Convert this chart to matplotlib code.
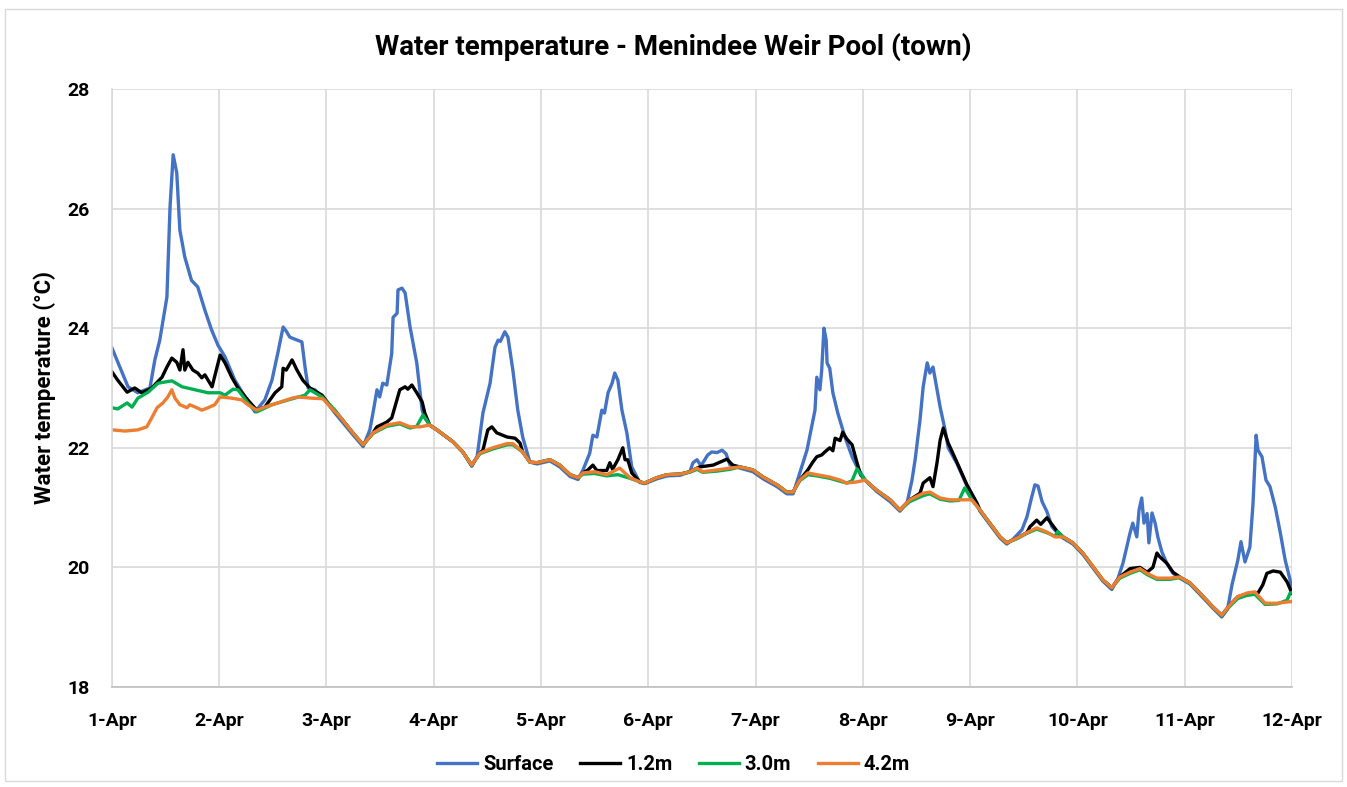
import matplotlib
matplotlib.use("Agg")
import matplotlib.pyplot as plt
from matplotlib.patches import Rectangle

plt.rcParams['font.family'] = ['Roboto', 'DejaVu Sans']
plt.rcParams['font.weight'] = 'bold'

# hours since 1-Apr 00:00, temperature in degC
surface_h = [0, 3.6, 5.8, 8.5, 9.6, 10.7, 12.3, 13.0, 13.7, 14.5, 15.2, 16.3, 17.8, 19.2, 20.8, 22.3, 23.7,
             25.3, 27.5, 29.8, 32.0, 34.2, 35.8, 37.1, 38.3, 39.0, 39.8, 42.5, 43.2, 43.9, 45.4, 47.7, 49.9,
             53.9, 56.2, 57.7, 58.4, 59.3, 59.9, 60.6, 61.5, 62.6, 62.9, 63.8, 64.0, 64.9, 65.6, 66.7, 68.2,
             69.4, 70.0, 71.1, 72.7, 76.3, 78.5, 80.5, 81.7, 83.0, 84.6, 85.7, 86.4, 86.9, 87.9, 88.6, 89.7,
             90.8, 91.9, 93.5, 95.1, 98.0, 100.2, 102.5, 104.3, 105.4, 106.9, 107.6, 108.5, 109.6, 110.2,
             111.0, 111.9, 112.5, 113.2, 114.1, 115.2, 116.3, 118.1, 119.2, 121.9, 124.2, 127.1, 129.3,
             130.0, 130.9, 131.8, 133.3, 134.2, 135.4, 136.5, 137.4, 138.3, 140.5, 143.4, 145.7, 148.8,
             151.0, 152.4, 153.9, 155.5, 157.3, 157.7, 158.4, 158.8, 159.3, 159.8, 160.0, 160.6, 161.3,
             162.4, 164.0, 165.6, 166.7, 168.5, 171.1, 174.1, 176.3, 177.9, 179.0, 179.7, 180.8, 181.5,
             182.4, 183.0, 183.7, 184.6, 185.3, 186.4, 187.1, 189.1, 191.3, 193.5, 194.2, 196.4, 198.7,
             200.2, 201.6, 203.6, 204.7, 205.8, 206.5, 207.2, 208.1, 209.2, 210.3, 211.6, 212.8, 215.0,
             217.2, 219.5, 221.7, 223.7, 225.1, 226.2, 227.8, 228.4, 229.3, 229.8, 230.4, 230.9, 231.6,
             232.0, 232.7, 233.4, 234.0, 234.9, 236.0, 237.4, 238.9, 241.2, 243.4, 246.3, 248.3, 249.6,
             250.6, 251.2, 251.9, 252.6, 253.5, 254.6, 255.3, 256.0, 256.4, 257.3, 258.2, 259.1, 260.3,
             261.4, 262.5, 263.6, 264.0]
surface_t = [23.67, 23.02, 22.92, 23.00, 23.47, 23.80, 24.52, 26.03, 26.90, 26.60, 25.64, 25.19, 24.80, 24.69,
             24.30, 23.97, 23.72, 23.52, 23.13, 22.85, 22.60, 22.80, 23.13, 23.58, 24.02, 23.95, 23.85, 23.77,
             23.35, 23.00, 22.97, 22.80, 22.58, 22.22, 22.02, 22.30, 22.58, 22.97, 22.85, 23.08, 23.05, 23.58,
             24.18, 24.25, 24.64, 24.67, 24.59, 24.02, 23.42, 22.63, 22.50, 22.38, 22.30, 22.10, 21.93, 21.69,
             21.85, 22.58, 23.08, 23.68, 23.80, 23.78, 23.94, 23.85, 23.30, 22.63, 22.18, 21.76, 21.73, 21.78,
             21.68, 21.52, 21.47, 21.63, 21.91, 22.21, 22.18, 22.63, 22.58, 22.92, 23.08, 23.25, 23.13, 22.63,
             22.25, 21.68, 21.42, 21.40, 21.48, 21.53, 21.54, 21.60, 21.75, 21.80, 21.70, 21.88, 21.93, 21.92,
             21.96, 21.90, 21.71, 21.66, 21.60, 21.48, 21.35, 21.23, 21.23, 21.58, 21.96, 22.63, 23.18, 22.97,
             23.30, 24.00, 23.80, 23.42, 23.33, 22.92, 22.58, 22.18, 21.85, 21.68, 21.46, 21.27, 21.10, 20.94,
             21.08, 21.46, 21.80, 22.47, 23.02, 23.42, 23.25, 23.35, 22.97, 22.68, 22.30, 22.00, 21.73, 21.36,
             21.06, 20.94, 20.72, 20.49, 20.39, 20.47, 20.63, 20.84, 21.18, 21.38, 21.36, 21.10, 20.93, 20.68,
             20.57, 20.49, 20.39, 20.22, 19.99, 19.77, 19.63, 19.82, 20.07, 20.58, 20.74, 20.51, 20.96, 21.16,
             20.74, 20.90, 20.41, 20.91, 20.74, 20.51, 20.26, 20.07, 19.90, 19.82, 19.72, 19.55, 19.32, 19.17,
             19.30, 19.71, 19.90, 20.12, 20.43, 20.09, 20.34, 21.07, 22.21, 21.96, 21.85, 21.46, 21.35, 21.00,
             20.58, 20.12, 19.79, 19.62]

m12_h = [0, 1.3, 3.4, 5.1, 6.7, 8.9, 11.2, 12.3, 13.4, 14.5, 15.2, 15.9, 16.3, 17.0, 18.1, 19.2, 20.1, 20.8,
         22.4, 24.2, 25.3, 26.8, 28.2, 30.4, 32.4, 34.2, 36.5, 38.0, 38.3, 39.0, 40.3, 41.4, 42.7, 44.3, 47.0,
         49.9, 51.0, 53.9, 56.2, 58.4, 59.3, 61.5, 62.6, 63.3, 64.4, 65.6, 66.2, 67.1, 68.2, 69.4, 70.0, 71.1,
         72.7, 76.3, 78.5, 80.5, 82.3, 83.0, 84.1, 85.0, 86.1, 88.4, 90.2, 91.3, 91.9, 93.5, 95.1, 98.0, 100.2,
         102.5, 104.3, 105.4, 106.5, 107.6, 108.5, 110.7, 111.4, 112.0, 113.2, 114.3, 114.8, 115.4, 116.3,
         118.1, 119.2, 121.9, 124.2, 127.1, 129.3, 130.9, 131.5, 134.5, 137.6, 138.9, 140.5, 143.4, 145.7,
         148.8, 151.0, 152.4, 153.9, 155.7, 156.8, 157.7, 158.8, 159.5, 160.6, 161.3, 161.8, 162.9, 163.5,
         164.4, 165.6, 166.7, 167.5, 168.5, 171.1, 174.1, 176.3, 178.5, 180.8, 181.5, 183.0, 183.7, 184.6,
         185.3, 186.0, 187.1, 189.1, 191.3, 193.5, 194.2, 196.4, 198.7, 200.2, 202.5, 204.7, 205.4, 206.9,
         207.8, 209.2, 210.3, 211.6, 212.8, 215.0, 217.2, 219.5, 221.7, 223.7, 225.5, 227.8, 230.0, 231.6,
         232.9, 233.8, 234.4, 236.0, 237.4, 238.9, 241.2, 243.4, 246.3, 248.3, 250.1, 251.9, 254.6, 256.4,
         257.5, 258.4, 259.8, 261.4, 262.9, 264.0]
m12_t = [23.27, 23.13, 22.93, 23.00, 22.92, 23.00, 23.18, 23.35, 23.50, 23.43, 23.30, 23.64, 23.30, 23.43, 23.30,
         23.25, 23.17, 23.22, 23.02, 23.55, 23.42, 23.18, 23.00, 22.80, 22.63, 22.68, 22.92, 23.02, 23.33, 23.30,
         23.47, 23.30, 23.13, 23.00, 22.88, 22.60, 22.52, 22.25, 22.05, 22.25, 22.35, 22.43, 22.50, 22.68, 22.97,
         23.02, 22.98, 23.05, 22.92, 22.77, 22.58, 22.38, 22.30, 22.10, 21.93, 21.71, 21.91, 21.96, 22.30, 22.35,
         22.25, 22.18, 22.16, 22.08, 21.93, 21.76, 21.75, 21.80, 21.71, 21.55, 21.50, 21.58, 21.63, 21.71, 21.62,
         21.62, 21.75, 21.64, 21.80, 22.00, 21.80, 21.80, 21.58, 21.43, 21.41, 21.50, 21.55, 21.56, 21.60, 21.66,
         21.68, 21.71, 21.81, 21.71, 21.68, 21.63, 21.51, 21.38, 21.26, 21.26, 21.46, 21.63, 21.76, 21.85, 21.88,
         21.93, 22.00, 21.95, 22.16, 22.12, 22.26, 22.15, 22.05, 21.75, 21.55, 21.46, 21.29, 21.13, 20.96, 21.13,
         21.24, 21.41, 21.50, 21.35, 21.75, 22.13, 22.33, 22.08, 21.75, 21.38, 21.08, 20.96, 20.74, 20.51, 20.41,
         20.49, 20.58, 20.68, 20.79, 20.72, 20.83, 20.72, 20.59, 20.51, 20.41, 20.24, 20.01, 19.79, 19.66, 19.84,
         19.98, 20.00, 19.92, 20.00, 20.24, 20.18, 20.07, 19.92, 19.84, 19.74, 19.57, 19.34, 19.20, 19.37, 19.51,
         19.57, 19.57, 19.71, 19.90, 19.94, 19.92, 19.76, 19.57]

m30_h = [0, 1.3, 3.4, 4.5, 5.8, 8.1, 10.3, 13.4, 15.7, 18.6, 21.5, 24.2, 25.3, 27.1, 28.2, 30.4, 32.4, 35.8,
         39.4, 43.2, 44.3, 47.0, 49.9, 51.0, 53.9, 56.2, 58.4, 61.5, 64.4, 66.7, 68.2, 69.6, 71.1, 72.7, 76.3,
         78.5, 80.5, 82.3, 85.2, 88.4, 89.7, 91.9, 93.5, 95.1, 98.0, 100.2, 102.5, 104.3, 105.4, 108.0, 110.7,
         113.2, 115.9, 118.1, 119.2, 121.9, 124.2, 127.1, 129.3, 130.9, 132.2, 135.4, 138.3, 140.5, 143.4,
         145.7, 148.8, 151.0, 152.4, 153.9, 155.7, 157.7, 160.6, 162.9, 164.4, 165.6, 166.7, 168.5, 171.1,
         174.1, 176.3, 178.5, 181.5, 183.0, 185.3, 187.5, 189.5, 190.8, 192.4, 194.2, 196.4, 198.7, 200.2,
         202.5, 204.7, 206.9, 209.2, 211.0, 211.6, 212.8, 215.0, 217.2, 219.5, 221.7, 223.7, 225.5, 227.8,
         230.0, 231.6, 233.8, 236.7, 238.9, 241.2, 243.4, 246.3, 248.3, 250.1, 251.9, 253.9, 255.7, 258.0,
         260.7, 262.9, 263.6, 264.0]
m30_t = [22.67, 22.65, 22.75, 22.68, 22.83, 22.93, 23.08, 23.12, 23.02, 22.97, 22.92, 22.92, 22.88, 22.98, 22.97,
         22.75, 22.60, 22.72, 22.80, 22.88, 22.97, 22.85, 22.63, 22.52, 22.25, 22.05, 22.24, 22.36, 22.40, 22.33,
         22.36, 22.55, 22.38, 22.30, 22.10, 21.93, 21.71, 21.90, 21.98, 22.05, 22.05, 21.93, 21.76, 21.75, 21.80,
         21.71, 21.55, 21.50, 21.56, 21.57, 21.53, 21.55, 21.49, 21.43, 21.41, 21.50, 21.55, 21.56, 21.59, 21.64,
         21.59, 21.61, 21.64, 21.68, 21.63, 21.51, 21.38, 21.26, 21.26, 21.45, 21.55, 21.53, 21.49, 21.44, 21.41,
         21.45, 21.65, 21.46, 21.29, 21.13, 20.96, 21.10, 21.20, 21.23, 21.14, 21.11, 21.12, 21.33, 21.13, 20.96,
         20.74, 20.51, 20.41, 20.48, 20.57, 20.64, 20.58, 20.52, 20.60, 20.51, 20.41, 20.24, 20.01, 19.79, 19.66,
         19.82, 19.90, 19.96, 19.88, 19.80, 19.80, 19.83, 19.73, 19.57, 19.34, 19.20, 19.35, 19.48, 19.53, 19.55,
         19.38, 19.39, 19.45, 19.57, 19.58]

m42_h = [0, 2.9, 5.8, 7.8, 8.9, 10.1, 11.4, 12.5, 13.4, 14.1, 15.2, 16.8, 17.4, 19.0, 20.1, 21.5, 23.0, 24.2,
         26.8, 29.1, 30.4, 32.4, 34.2, 37.1, 40.3, 41.6, 44.7, 47.2, 49.9, 51.0, 53.9, 56.2, 58.4, 61.5, 64.4,
         66.7, 68.9, 71.1, 72.7, 76.3, 78.5, 80.5, 82.3, 85.2, 88.4, 89.7, 91.9, 93.5, 95.1, 98.0, 100.2, 102.5,
         104.3, 105.4, 108.0, 110.7, 113.6, 115.9, 118.1, 119.2, 121.9, 124.2, 127.1, 129.3, 130.9, 132.2, 135.4,
         138.3, 140.5, 143.4, 145.7, 148.8, 151.0, 152.4, 153.9, 155.7, 157.7, 160.6, 162.9, 164.4, 166.7, 168.5,
         171.1, 174.1, 176.3, 178.5, 181.5, 183.0, 185.3, 187.5, 190.4, 192.4, 194.2, 196.4, 198.7, 200.2, 202.5,
         204.7, 206.9, 209.2, 211.0, 212.8, 215.0, 217.2, 219.5, 221.7, 223.7, 225.5, 227.8, 230.0, 231.6, 233.8,
         236.7, 238.9, 241.2, 243.4, 246.3, 248.3, 250.1, 251.9, 253.9, 255.7, 258.0, 260.7, 262.9, 264.0]
m42_t = [22.30, 22.28, 22.30, 22.35, 22.50, 22.67, 22.75, 22.85, 22.97, 22.83, 22.72, 22.67, 22.72, 22.67, 22.63,
         22.67, 22.72, 22.85, 22.83, 22.80, 22.72, 22.63, 22.68, 22.75, 22.83, 22.85, 22.83, 22.82, 22.60, 22.52,
         22.25, 22.05, 22.25, 22.38, 22.42, 22.35, 22.35, 22.38, 22.30, 22.10, 21.93, 21.71, 21.91, 22.00, 22.07,
         22.07, 21.93, 21.76, 21.75, 21.80, 21.71, 21.55, 21.50, 21.58, 21.60, 21.55, 21.66, 21.50, 21.43, 21.41,
         21.50, 21.55, 21.56, 21.60, 21.66, 21.60, 21.63, 21.66, 21.68, 21.63, 21.51, 21.38, 21.26, 21.26, 21.46,
         21.58, 21.55, 21.51, 21.46, 21.41, 21.43, 21.46, 21.29, 21.13, 20.96, 21.13, 21.24, 21.26, 21.16, 21.13,
         21.13, 21.13, 20.96, 20.74, 20.51, 20.41, 20.49, 20.58, 20.66, 20.59, 20.51, 20.51, 20.41, 20.24, 20.01,
         19.79, 19.66, 19.84, 19.92, 19.98, 19.90, 19.82, 19.82, 19.84, 19.74, 19.57, 19.34, 19.20, 19.37, 19.51,
         19.57, 19.59, 19.40, 19.40, 19.42, 19.43]

day_labels = ['1-Apr', '2-Apr', '3-Apr', '4-Apr', '5-Apr', '6-Apr', '7-Apr', '8-Apr', '9-Apr',
              '10-Apr', '11-Apr', '12-Apr']

fig = plt.figure(figsize=(13.47, 7.87), dpi=100)
ax = fig.add_axes([0.0831, 0.1271, 0.876, 0.7598])

ax.plot(surface_h, surface_t, color='#4472C4', lw=2.4, label='Surface')
ax.plot(m12_h, m12_t, color='black', lw=2.4, label='1.2m')
ax.plot(m30_h, m30_t, color='#00B050', lw=2.4, label='3.0m')
ax.plot(m42_h, m42_t, color='#ED7D31', lw=2.4, label='4.2m')

ax.set_xlim(0, 264)
ax.set_ylim(18, 28)
ax.set_xticks([24 * i for i in range(len(day_labels))])
ax.set_xticklabels(day_labels)
ax.set_yticks(range(18, 29, 2))
ax.tick_params(length=0, labelsize=14, pad=18)
ax.tick_params(axis='y', pad=16)
for lab in ax.get_xticklabels() + ax.get_yticklabels():
    lab.set_fontweight('bold')
ax.grid(True, color='#d9d9d9', lw=1.2)
ax.set_axisbelow(True)
for s in ['top', 'right']:
    ax.spines[s].set_visible(False)
ax.spines['left'].set_color('#d9d9d9')
ax.spines['bottom'].set_color('#bfbfbf')
ax.spines['left'].set_linewidth(1.2)
ax.spines['bottom'].set_linewidth(1.2)

ax.set_ylabel('Water temperature (°C)', fontsize=16, fontweight='bold', labelpad=8)
fig.text(0.5, 0.94, 'Water temperature - Menindee Weir Pool (town)', ha='center', va='center',
         fontsize=20, fontweight='bold')

fig.legend(loc='center', bbox_to_anchor=(0.5, 0.029), ncol=4, frameon=False,
           prop={'size': 14.5, 'weight': 'bold'}, handlelength=2.0, columnspacing=1.3,
           handletextpad=0.3)

fig.patches.append(Rectangle((0.004, 0.008), 0.992, 0.98, transform=fig.transFigure,
                             fill=False, edgecolor='#d9d9d9', lw=1))

fig.savefig('out.png', dpi=100)
